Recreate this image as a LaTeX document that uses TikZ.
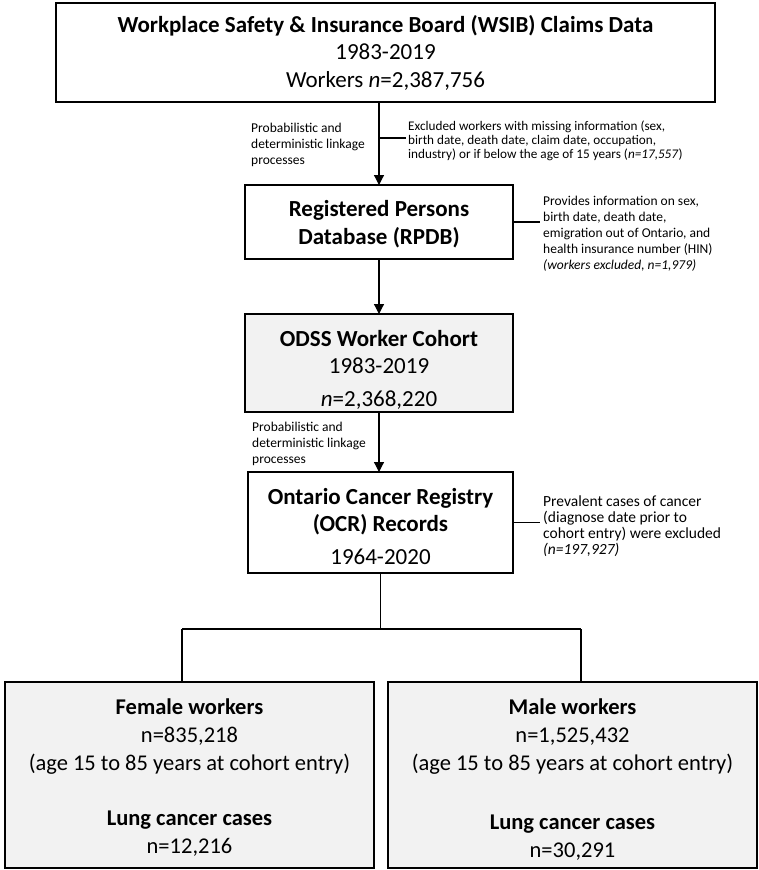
\documentclass[tikz,border=0pt]{standalone}
\usepackage{fontspec}
\setmainfont{Carlito}
\usetikzlibrary{arrows.meta}
\definecolor{boxgray}{HTML}{F2F2F2}
\newcommand{\topstrut}[1]{\rule{0pt}{#1}}
\begin{document}
\begin{tikzpicture}[x=1pt,y=-1pt,
  box/.style={draw=black, line width=1.8pt, inner sep=0pt, outer sep=0pt, align=center,
              font=\fontsize{23}{27.5}\selectfont},
  gbox/.style={box, fill=boxgray},
  note/.style={anchor=west, align=left, inner sep=0pt, font=\fontsize{13.5}{16}\selectfont},
  conn/.style={line width=1.2pt},
  arr/.style={conn, -{Triangle[width=10pt,length=10pt]}}]
\useasboundingbox (0,0) rectangle (759,870);

% boxes
\node[box, minimum width=659pt, minimum height=99pt] (wsib) at (385.5,52.5)
  {{\bfseries Workplace Safety \& Insurance Board (WSIB) Claims Data}\\1983-2019\\Workers \textit{n}=2,387,756};
\node[box, minimum width=268pt, minimum height=74pt] (rpdb) at (379,222)
  {\topstrut{20pt}\bfseries Registered Persons\\\bfseries Database (RPDB)};
\node[gbox, minimum width=268pt, minimum height=98pt] (odss) at (379,363)
  {\topstrut{30pt}{\bfseries ODSS Worker Cohort}\\1983-2019\\[5.5pt]\textit{n}=2,368,220};
\node[box, minimum width=265pt, minimum height=101pt] (ocr) at (380.5,522.5)
  {\topstrut{24pt}{\bfseries Ontario Cancer Registry}\\{\bfseries (OCR) Records}\\[5.5pt]1964-2020};
\node[gbox, minimum width=369pt, minimum height=186pt, font=\fontsize{22.5}{28}\selectfont] (female) at (189.5,775)
  {\topstrut{20.5pt}{\bfseries Female workers}\\n=835,218\\(age 15 to 85 years at cohort entry)\\[27pt]{\bfseries Lung cancer cases}\\n=12,216};
\node[gbox, minimum width=369pt, minimum height=186pt, font=\fontsize{22.5}{28}\selectfont] (male) at (572.5,775)
  {\topstrut{24pt}{\bfseries Male workers}\\n=1,525,432\\(age 15 to 85 years at cohort entry)\\[31pt]{\bfseries Lung cancer cases}\\n=30,291};

% notes
\node[note] (link1) at (251,145) {Probabilistic and\\deterministic linkage\\processes};
\node[note] (link2) at (252,444) {Probabilistic and\\deterministic linkage\\processes};
\node[note, font=\fontsize{13.2}{14}\selectfont] (excl) at (408,141)
  {Excluded workers with missing information (sex,\\birth date, death date, claim date, occupation,\\industry) or if below the age of 15 years (\textit{n=17,557})};
\node[note] (prov) at (543,234)
  {Provides information on sex,\\birth date, death date,\\emigration out of Ontario, and\\health insurance number (HIN)\\\textit{(workers excluded, n=1,979)}};
\node[note, font=\fontsize{15.5}{16}\selectfont] (prev) at (543,526)
  {Prevalent cases of cancer\\(diagnose date prior to\\cohort entry) were excluded\\\textit{(n=197,927)}};

% connectors
\draw[arr] (wsib.south -| rpdb.north) -- (rpdb.north);
\coordinate (j1) at (379,138);
\draw[conn, shorten >=2pt] (j1) -- (j1 -| excl.west);
\draw[conn, shorten >=3pt] (rpdb.east) -- (rpdb.east -| prov.west);
\draw[arr] (rpdb.south) -- (odss.north);
\draw[arr] (odss.south) -- (odss.south |- ocr.north);
\draw[conn, shorten >=3pt] (ocr.east) -- (ocr.east -| prev.west);
\coordinate (fl) at (182,629);
\coordinate (ml) at (581,629);
\draw[conn] (ocr.south) -- (ocr.south |- fl);
\draw[conn] (fl) -- (ml);
\draw[conn] (fl) -- (fl |- female.north);
\draw[conn] (ml) -- (ml |- male.north);
\end{tikzpicture}
\end{document}
